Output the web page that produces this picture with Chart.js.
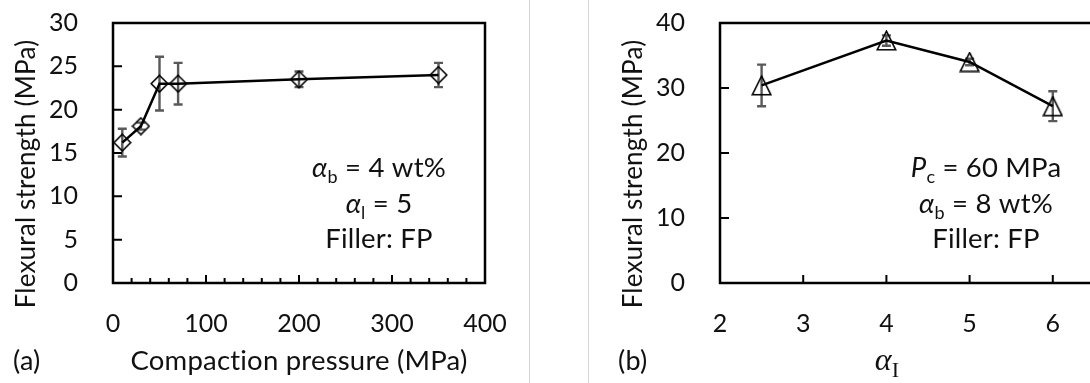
<!DOCTYPE html>
<html>
<head>
<meta charset="utf-8">
<script src="https://cdn.jsdelivr.net/npm/chart.js@4.4.1/dist/chart.umd.min.js"></script>
<style>
html, body { margin:0; padding:0; background:#fff; overflow:hidden; width:1090px; height:383px; }
canvas { position:absolute; top:0; }
#chartA { left:0; }
#chartB { left:590px; }
.sep { position:absolute; top:0; width:1px; height:383px; background:#d6d6d6; }
</style>
</head>
<body>
<div class="sep" style="left:529px"></div>
<div class="sep" style="left:588px"></div>
<canvas id="chartA" width="520" height="383"></canvas>
<canvas id="chartB" width="600" height="383"></canvas>
<script>
// (a) flexural strength vs compaction pressure
var pressure  = [10, 30, 50, 70, 200, 350];
var strengthA = [16.2, 18.1, 23.0, 23.0, 23.5, 24.0];
var errA      = [1.6, 0.4, 3.1, 2.4, 0.9, 1.4];

// (b) flexural strength vs alpha_I
var alphaI    = [2.5, 4, 5, 6];
var strengthB = [30.4, 37.3, 34.0, 27.2];
var errB      = [3.2, 0.8, 0.5, 2.3];

var FONT = 'Lato, "Open Sans", sans-serif';
var INK = '#111';
var TITLE_BASE = 370;

function pts(xs, ys) {
  return xs.map(function(x, i){ return {x: x, y: ys[i]}; });
}

// hollow marker images, Excel style
function marker(kind, size) {
  var c = document.createElement('canvas');
  c.width = size; c.height = size;
  var g = c.getContext('2d'), h = size / 2, e = 1.2;
  g.strokeStyle = '#000';
  g.lineWidth = 1.6;
  g.beginPath();
  if (kind === 'diamond') {
    g.moveTo(h, e); g.lineTo(size - e, h); g.lineTo(h, size - e); g.lineTo(e, h);
  } else {
    g.moveTo(h, e); g.lineTo(size - e, size - e); g.lineTo(e, size - e);
  }
  g.closePath();
  g.stroke();
  return c;
}

// draw a line of text made of parts (for subscripts / italics), centred on cx
function drawRich(ctx, parts, cx, base) {
  var w = 0;
  parts.forEach(function(p){ ctx.font = p.f; p.w = ctx.measureText(p.t).width; w += p.w; });
  var x = cx - w / 2;
  ctx.textAlign = 'left';
  ctx.textBaseline = 'alphabetic';
  parts.forEach(function(p){
    ctx.font = p.f;
    ctx.fillText(p.t, x, base + (p.dy || 0));
    x += p.w;
  });
}

var errorBars = {
  id: 'errorBars',
  beforeDatasetsDraw: function(chart, args, opts) {
    var ctx = chart.ctx, xs = chart.scales.x, ys = chart.scales.y;
    var d = chart.data.datasets[0].data;
    ctx.save();
    ctx.strokeStyle = '#595959';
    ctx.lineWidth = 2.4;
    d.forEach(function(p, i){
      var e = opts.err[i];
      var px = xs.getPixelForValue(p.x);
      var t = ys.getPixelForValue(p.y + e), b = ys.getPixelForValue(p.y - e);
      ctx.beginPath();
      ctx.moveTo(px, t); ctx.lineTo(px, b);
      ctx.moveTo(px - 4.5, t); ctx.lineTo(px + 4.5, t);
      ctx.moveTo(px - 4.5, b); ctx.lineTo(px + 4.5, b);
      ctx.stroke();
    });
    ctx.restore();
  }
};

// box round the plot and inward tick marks
var frame = {
  id: 'frame',
  afterDraw: function(chart, args, opts) {
    var ctx = chart.ctx, a = chart.chartArea, xs = chart.scales.x, ys = chart.scales.y;
    ctx.save();
    ctx.strokeStyle = '#000';
    ctx.lineWidth = 2;
    ctx.beginPath();
    opts.xMajor.forEach(function(v){
      var px = xs.getPixelForValue(v);
      ctx.moveTo(px, a.bottom); ctx.lineTo(px, a.bottom - 8);
    });
    opts.xMinor.forEach(function(v){
      var px = xs.getPixelForValue(v);
      ctx.moveTo(px, a.bottom); ctx.lineTo(px, a.bottom - 5);
    });
    opts.yMajor.forEach(function(v){
      var py = ys.getPixelForValue(v);
      ctx.moveTo(a.left, py); ctx.lineTo(a.left + 9, py);
    });
    ctx.stroke();
    ctx.lineWidth = 2.5;
    ctx.strokeRect(a.left, a.top, a.right - a.left, a.bottom - a.top);
    ctx.restore();
  }
};

var labels = {
  id: 'labels',
  afterDraw: function(chart, args, opts) {
    var ctx = chart.ctx, a = chart.chartArea;
    ctx.save();
    ctx.fillStyle = INK;
    ctx.letterSpacing = '0.2px';
    opts.lines.forEach(function(parts, i){
      drawRich(ctx, parts, a.left + 266, a.top + 154 + i * 35.5);
    });
    // x title
    drawRich(ctx, opts.xTitle, opts.xTitleX(a), TITLE_BASE);
    // panel tag
    ctx.font = '27px ' + FONT;
    ctx.textAlign = 'left';
    ctx.fillText(opts.tag, opts.tagX, TITLE_BASE);
    // y title
    ctx.translate(opts.yTitleX, 174);
    ctx.rotate(-Math.PI / 2);
    ctx.font = '26px ' + FONT;
    ctx.textAlign = 'center';
    ctx.textBaseline = 'middle';
    ctx.fillText('Flexural strength (MPa)', 0, 0);
    ctx.restore();
  }
};

function big(t)   { return {t: t, f: '27.5px ' + FONT}; }
function ital(t)  { return {t: t, f: 'italic 27.5px ' + FONT}; }
function sub(t)   { return {t: t, f: '18px ' + FONT, dy: 6}; }

function lineSet(points, img) {
  return {
    data: points,
    borderColor: '#000',
    borderWidth: 2.5,
    pointStyle: img,
    pointRadius: 10,
    tension: 0
  };
}

function axis(min, max, step, fitFn, cb) {
  return {
    type: 'linear', min: min, max: max,
    grid: { display: false, drawTicks: false },
    border: { display: false },
    ticks: { stepSize: step, padding: 0, color: INK, font: { family: FONT, size: 25 },
             maxRotation: 0, callback: cb || function(v){ return String(v); } },
    afterFit: function(s) {
      fitFn(s);
      s.paddingTop = 0; s.paddingBottom = 0; s.paddingLeft = 0; s.paddingRight = 0;
    }
  };
}

var minorA = [];
for (var m = 20; m < 400; m += 20) { if (m % 100) minorA.push(m); }

var optsA = {
  responsive: false, animation: false, devicePixelRatio: 1,
  layout: { padding: { top: 23, right: 35, left: 0, bottom: 0 } },
  scales: {
    x: axis(0, 400, 100, function(s){ s.height = 100; }),
    y: axis(0, 30, 5, function(s){ s.width = 113; })
  },
  plugins: {
    legend: { display: false },
    tooltip: { enabled: false },
    errorBars: { err: errA },
    frame: { xMajor: [100, 200, 300], xMinor: minorA, yMajor: [5, 10, 15, 20, 25] },
    labels: {
      lines: [
        [ital('\u03b1'), sub('b'), big(' = 4 wt%')],
        [ital('\u03b1'), sub('l'), big(' = 5')],
        [big('Filler: FP')]
      ],
      xTitle: [{t: 'Compaction pressure (MPa)', f: '27.5px ' + FONT}],
      xTitleX: function(a){ return (a.left + a.right) / 2; },
      tag: '(a)', tagX: 13, yTitleX: 27
    }
  }
};
optsA.scales.x.ticks.padding = 26;
optsA.scales.y.ticks.padding = 35;

new Chart(document.getElementById('chartA'), {
  type: 'line',
  data: { datasets: [lineSet(pts(pressure, strengthA), marker('diamond', 19))] },
  options: optsA,
  plugins: [errorBars, frame, labels]
});

var optsB = {
  responsive: false, animation: false, devicePixelRatio: 1,
  layout: { padding: { top: 23, right: 54, left: 0, bottom: 0 } },
  scales: {
    x: axis(2, 7, 1, function(s){ s.height = 100; }, function(v){ return v <= 6 ? String(v) : null; }),
    y: axis(0, 40, 10, function(s){ s.width = 130; })
  },
  plugins: {
    legend: { display: false },
    tooltip: { enabled: false },
    errorBars: { err: errB },
    frame: { xMajor: [3, 4, 5, 6], xMinor: [], yMajor: [10, 20, 30] },
    labels: {
      lines: [
        [ital('P'), sub('c'), big(' = 60 MPa')],
        [ital('\u03b1'), sub('b'), big(' = 8 wt%')],
        [big('Filler: FP')]
      ],
      xTitle: [{t: '\u03b1', f: 'italic 32px "Liberation Serif", serif'},
               {t: 'I', f: '22px "Liberation Serif", serif', dy: 7}],
      xTitleX: function(a){ return a.left + 167; },
      tag: '(b)', tagX: 28, yTitleX: 44
    }
  }
};
optsB.scales.x.ticks.padding = 26;
optsB.scales.y.ticks.padding = 35;

new Chart(document.getElementById('chartB'), {
  type: 'line',
  data: { datasets: [lineSet(pts(alphaI, strengthB), marker('triangle', 21))] },
  options: optsB,
  plugins: [errorBars, frame, labels]
});
</script>
</body>
</html>
